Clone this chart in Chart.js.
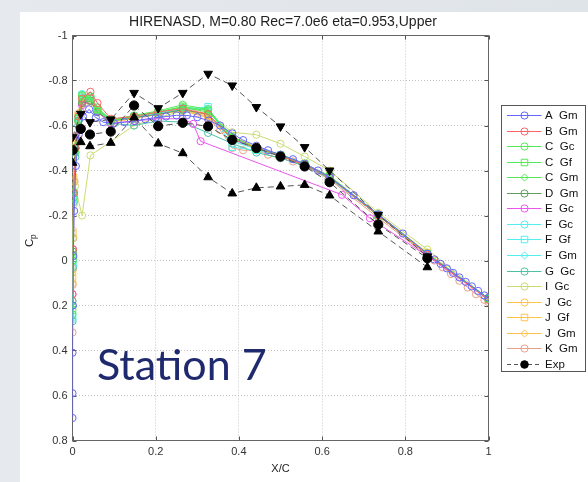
<!DOCTYPE html>
<html><head><meta charset="utf-8">
<script src="https://cdn.jsdelivr.net/npm/chart.js@4"></script>
<style>
html,body{margin:0;padding:0;width:588px;height:482px;overflow:hidden;background:linear-gradient(90deg,#e6e9ed,#dfe4e9);}
#fig{position:absolute;left:20px;top:12px;width:568px;height:470px;background:#fff;}
#c{position:absolute;left:0;top:0;}
#station{position:absolute;left:97px;top:342px;font-family:Lato,'Open Sans',sans-serif;font-size:43px;color:#1f2a6e;white-space:nowrap;line-height:1;}
</style></head>
<body>
<div id="fig"></div>
<canvas id="c" width="588" height="482"></canvas>
<div id="station">Station 7</div>
<script>
// ---------- data ----------
const titleText = 'HIRENASD, M=0.80 Rec=7.0e6 eta=0.953,Upper';
const xTicks = [0, 0.2, 0.4, 0.6, 0.8, 1];
const xTickLabels = ['0', '0.2', '0.4', '0.6', '0.8', '1'];
const yTicks = [-1, -0.8, -0.6, -0.4, -0.2, 0, 0.2, 0.4, 0.6, 0.8];
const yTickLabels = ['-1', '-0.8', '-0.6', '-0.4', '-0.2', '0', '0.2', '0.4', '0.6', '0.8'];

const xA = [0, 0, 0, 0.001, 0.002, 0.004, 0.008, 0.015, 0.025, 0.04, 0.056, 0.074, 0.1, 0.125, 0.15, 0.175, 0.2, 0.225, 0.25, 0.275, 0.3, 0.327, 0.355, 0.384, 0.41, 0.442, 0.47, 0.5, 0.53, 0.558, 0.59, 0.618, 0.676, 0.735, 0.794, 0.853, 0.87, 0.885, 0.9, 0.915, 0.93, 0.945, 0.96, 0.975, 0.99, 1.0];
const cpA_Gm = [0.70, 0.59, 0.41, 0.2, -0.02, -0.22, -0.42, -0.56, -0.64, -0.672, -0.635, -0.615, -0.61, -0.615, -0.62, -0.628, -0.635, -0.64, -0.645, -0.645, -0.637, -0.622, -0.6, -0.565, -0.535, -0.51, -0.49, -0.47, -0.45, -0.43, -0.4, -0.37, -0.29, -0.205, -0.12, -0.03, -0.005, 0.015, 0.035, 0.055, 0.075, 0.095, 0.115, 0.135, 0.155, 0.165];

const xS = [0, 0.001, 0.003, 0.007, 0.014, 0.023, 0.043, 0.06, 0.092, 0.148, 0.206, 0.265, 0.326, 0.384, 0.442, 0.5, 0.558, 0.618, 0.735, 0.853, 1.0];
const cpB_Gm = [0.15, -0.05, -0.3, -0.5, -0.64, -0.72, -0.75, -0.7, -0.63, -0.64, -0.66, -0.675, -0.65, -0.54, -0.5, -0.465, -0.425, -0.37, -0.2, -0.025, 0.175];
const cpC_Gc = [0.24, 0.0, -0.28, -0.48, -0.62, -0.735, -0.73, -0.68, -0.625, -0.645, -0.665, -0.692, -0.672, -0.55, -0.5, -0.47, -0.43, -0.375, -0.205, -0.03, 0.17];
const cpC_Gf = [0.22, -0.02, -0.3, -0.5, -0.63, -0.73, -0.72, -0.67, -0.625, -0.64, -0.66, -0.685, -0.665, -0.545, -0.495, -0.468, -0.43, -0.375, -0.2, -0.03, 0.17];
const cpC_Gm = [0.2, -0.03, -0.31, -0.51, -0.64, -0.72, -0.725, -0.67, -0.62, -0.64, -0.66, -0.68, -0.66, -0.55, -0.5, -0.47, -0.43, -0.37, -0.2, -0.03, 0.17];
const cpD_Gm = [0.18, -0.04, -0.3, -0.5, -0.62, -0.7, -0.71, -0.66, -0.62, -0.635, -0.65, -0.67, -0.65, -0.54, -0.5, -0.465, -0.425, -0.37, -0.2, -0.03, 0.17];
const cpF_Gc = [0.26, 0.02, -0.27, -0.48, -0.62, -0.74, -0.73, -0.68, -0.625, -0.64, -0.66, -0.68, -0.675, -0.54, -0.5, -0.47, -0.43, -0.375, -0.205, -0.03, 0.17];
const cpF_Gf = [0.25, 0.0, -0.28, -0.49, -0.63, -0.735, -0.72, -0.67, -0.62, -0.64, -0.655, -0.67, -0.683, -0.504, -0.49, -0.465, -0.43, -0.37, -0.2, -0.03, 0.17];
const cpF_Gm = [0.2, -0.03, -0.3, -0.5, -0.63, -0.73, -0.72, -0.67, -0.62, -0.635, -0.655, -0.675, -0.67, -0.53, -0.495, -0.465, -0.43, -0.37, -0.2, -0.03, 0.17];
const cpG_Gc = [0.27, 0.03, -0.26, -0.46, -0.6, -0.7, -0.71, -0.66, -0.61, -0.6, -0.62, -0.615, -0.567, -0.52, -0.48, -0.455, -0.42, -0.365, -0.2, -0.03, 0.17];
const cpJ_Gc = [0.1, -0.1, -0.35, -0.52, -0.64, -0.7, -0.72, -0.67, -0.62, -0.635, -0.655, -0.675, -0.645, -0.55, -0.505, -0.47, -0.43, -0.375, -0.205, -0.035, 0.17];
const cpJ_Gf = [0.08, -0.12, -0.36, -0.53, -0.65, -0.705, -0.71, -0.665, -0.62, -0.635, -0.655, -0.67, -0.64, -0.545, -0.5, -0.468, -0.428, -0.372, -0.203, -0.033, 0.17];
const cpJ_Gm = [0.06, -0.14, -0.38, -0.54, -0.655, -0.695, -0.7, -0.66, -0.615, -0.63, -0.65, -0.665, -0.635, -0.54, -0.5, -0.465, -0.425, -0.37, -0.2, -0.03, 0.17];

const xE = [0, 0.001, 0.003, 0.007, 0.014, 0.023, 0.043, 0.06, 0.092, 0.148, 0.206, 0.265, 0.29, 0.308, 0.648, 0.715, 0.853, 1.0];
const cpE_Gc = [0.15, -0.05, -0.3, -0.5, -0.62, -0.69, -0.71, -0.66, -0.61, -0.62, -0.63, -0.63, -0.607, -0.53, -0.292, -0.188, -0.02, 0.17];

const xI = [0, 0.001, 0.003, 0.006, 0.023, 0.043, 0.148, 0.206, 0.265, 0.326, 0.384, 0.442, 0.5, 0.558, 0.618, 0.735, 0.853, 1.0];
const cpI_Gc = [0.05, -0.1, -0.25, -0.33, -0.2, -0.467, -0.6, -0.635, -0.665, -0.655, -0.57, -0.559, -0.519, -0.462, -0.4, -0.212, -0.049, 0.17];

const xK = [0, 0.0005, 0.001, 0.002, 0.005, 0.01, 0.02, 0.03, 0.043, 0.06, 0.092, 0.148, 0.206, 0.265, 0.3, 0.326, 0.355, 0.384, 0.41, 0.442, 0.47, 0.5, 0.53, 0.558, 0.618, 0.735, 0.853, 0.87, 0.89, 0.91, 0.93, 0.95, 0.97, 0.99, 1.0];
const cpK_Gm = [0.32, 0.108, 0.037, -0.1, -0.35, -0.55, -0.66, -0.70, -0.71, -0.66, -0.62, -0.63, -0.65, -0.665, -0.655, -0.63, -0.58, -0.5, -0.49, -0.49, -0.47, -0.455, -0.44, -0.42, -0.36, -0.19, -0.02, 0.0, 0.03, 0.06, 0.09, 0.12, 0.15, 0.175, 0.185];

const xExp = [0, 0.02, 0.042, 0.092, 0.148, 0.206, 0.265, 0.326, 0.384, 0.442, 0.5, 0.558, 0.618, 0.735, 0.853];
const cpExp = [-0.49, -0.585, -0.56, -0.573, -0.689, -0.597, -0.612, -0.596, -0.536, -0.5, -0.462, -0.418, -0.348, -0.16, -0.01];
const cpExpMin = [-0.548, -0.652, -0.615, -0.627, -0.745, -0.677, -0.745, -0.83, -0.778, -0.682, -0.596, -0.504, -0.4, -0.203, -0.018];
const cpExpMax = [-0.434, -0.526, -0.508, -0.523, -0.636, -0.52, -0.477, -0.37, -0.298, -0.323, -0.329, -0.336, -0.289, -0.129, 0.03];

// ---------- build ----------
const zip = (xs, ys) => xs.map((x, i) => ({x, y: ys[i]}));
function cfd(label, xs, ys, color, style) {
  return {label, data: zip(xs, ys), borderColor: color, pointBorderColor: color,
    pointBackgroundColor: 'rgba(0,0,0,0)', borderWidth: 1, pointBorderWidth: 1,
    pointStyle: style, pointRadius: style === 'rect' ? 4.6 : 3.6, showLine: true, inLegend: true};
}
const cBlue = '#6565ff', cRed = '#ff6464', cGreen = '#55ea55', cDGreen = '#5e9e5e', cMag = '#ec55ec',
      cCyan = '#55eeee', cTeal = '#4fc0a6', cYG = '#c9dc72', cOr = '#ffc24d', cSal = '#e8a088';
const datasets = [
  cfd('A  Gm', xA, cpA_Gm, cBlue, 'circle'),
  cfd('B  Gm', xS, cpB_Gm, cRed, 'circle'),
  cfd('C  Gc', xS, cpC_Gc, cGreen, 'circle'),
  cfd('C  Gf', xS, cpC_Gf, cGreen, 'rect'),
  cfd('C  Gm', xS, cpC_Gm, cGreen, 'rectRot'),
  cfd('D  Gm', xS, cpD_Gm, cDGreen, 'circle'),
  cfd('E  Gc', xE, cpE_Gc, cMag, 'circle'),
  cfd('F  Gc', xS, cpF_Gc, cCyan, 'circle'),
  cfd('F  Gf', xS, cpF_Gf, cCyan, 'rect'),
  cfd('F  Gm', xS, cpF_Gm, cCyan, 'rectRot'),
  cfd('G  Gc', xS, cpG_Gc, cTeal, 'circle'),
  cfd('I  Gc', xI, cpI_Gc, cYG, 'circle'),
  cfd('J  Gc', xS, cpJ_Gc, cOr, 'circle'),
  cfd('J  Gf', xS, cpJ_Gf, cOr, 'rect'),
  cfd('J  Gm', xS, cpJ_Gm, cOr, 'rectRot'),
  cfd('K  Gm', xK, cpK_Gm, cSal, 'circle'),
  {label: 'Exp', data: zip(xExp, cpExp), borderColor: '#555', borderDash: [6, 4], borderWidth: 1,
   pointStyle: 'circle', pointRadius: 4.6, pointBackgroundColor: '#000', pointBorderColor: '#000',
   pointBorderWidth: 1, showLine: true, order: -1, inLegend: true},
  {label: 'ExpMin', data: zip(xExp, cpExpMin), borderColor: '#555', borderDash: [6, 4], borderWidth: 1,
   pointStyle: 'triangle', rotation: 180, pointRadius: 5, pointBackgroundColor: '#000', pointBorderColor: '#000',
   pointBorderWidth: 1, showLine: true, order: -1, inLegend: false},
  {label: 'ExpMax', data: zip(xExp, cpExpMax), borderColor: '#555', borderDash: [6, 4], borderWidth: 1,
   pointStyle: 'triangle', rotation: 0, pointRadius: 5, pointBackgroundColor: '#000', pointBorderColor: '#000',
   pointBorderWidth: 1, showLine: true, order: -1, inLegend: false}
];

const FONT = "'Liberation Sans', Arial, Helvetica, sans-serif";

function drawMarker(ctx, style, x, y, r, rot, stroke, fill) {
  ctx.save();
  ctx.beginPath();
  if (style === 'circle') ctx.arc(x, y, r, 0, Math.PI * 2);
  else if (style === 'rect') { const s = r * Math.SQRT1_2; ctx.rect(x - s, y - s, 2 * s, 2 * s); }
  else if (style === 'rectRot') { ctx.moveTo(x, y - r); ctx.lineTo(x + r, y); ctx.lineTo(x, y + r); ctx.lineTo(x - r, y); ctx.closePath(); }
  else if (style === 'triangle') {
    const a = (rot || 0) * Math.PI / 180;
    for (let k = 0; k < 3; k++) {
      const t = a - Math.PI / 2 + k * 2 * Math.PI / 3;
      const px = x + r * Math.cos(t), py = y + r * Math.sin(t);
      k ? ctx.lineTo(px, py) : ctx.moveTo(px, py);
    }
    ctx.closePath();
  }
  if (fill && fill !== 'rgba(0,0,0,0)') { ctx.fillStyle = fill; ctx.fill(); }
  ctx.strokeStyle = stroke; ctx.lineWidth = 1; ctx.stroke();
  ctx.restore();
}

const decor = {
  id: 'decor',
  beforeDatasetsDraw(chart) {
    const {ctx, chartArea: a, scales} = chart;
    ctx.save();
    ctx.strokeStyle = '#555'; ctx.lineWidth = 1;
    xTicks.forEach(v => {
      const px = Math.round(scales.x.getPixelForValue(v)) + 0.5;
      ctx.beginPath(); ctx.moveTo(px, a.bottom); ctx.lineTo(px, a.bottom - 4);
      ctx.moveTo(px, a.top); ctx.lineTo(px, a.top + 4); ctx.stroke();
    });
    yTicks.forEach(v => {
      const py = Math.round(scales.y.getPixelForValue(v)) + 0.5;
      ctx.beginPath(); ctx.moveTo(a.left, py); ctx.lineTo(a.left + 4, py);
      ctx.moveTo(a.right, py); ctx.lineTo(a.right - 4, py); ctx.stroke();
    });
    ctx.strokeStyle = '#666';
    ctx.strokeRect(a.left, a.top, a.right - a.left, a.bottom - a.top);
    ctx.restore();
  },
  afterDraw(chart) {
    const {ctx, chartArea: a} = chart;
    ctx.save();
    // title
    ctx.fillStyle = '#222'; ctx.font = '14px ' + FONT; ctx.textAlign = 'center'; ctx.textBaseline = 'middle';
    ctx.fillText(titleText, 283, 22.5);
    // x label
    ctx.font = '11px ' + FONT;
    ctx.fillText('X/C', (a.left + a.right) / 2, 469);
    // y label C_p
    ctx.save();
    ctx.translate(30, 241); ctx.rotate(-Math.PI / 2);
    ctx.textAlign = 'left'; ctx.font = '11.5px ' + FONT;
    ctx.fillText('C', -6, 0);
    ctx.font = '8.5px ' + FONT;
    ctx.fillText('p', 2, 4);
    ctx.restore();
    // legend
    const lx = 501.5, ly = 105.5, lw = 84, lh = 266;
    ctx.fillStyle = '#fff'; ctx.fillRect(lx, ly, lw, lh);
    ctx.strokeStyle = '#555'; ctx.lineWidth = 1; ctx.strokeRect(lx, ly, lw, lh);
    const items = chart.data.datasets.filter(d => d.inLegend);
    ctx.font = '11.5px ' + FONT; ctx.textAlign = 'left'; ctx.textBaseline = 'middle';
    items.forEach((d, i) => {
      const y = Math.round(115 + i * 15.55) + 0.5;
      ctx.save();
      ctx.strokeStyle = d.borderColor; ctx.lineWidth = 1;
      if (d.borderDash) ctx.setLineDash([4, 3]);
      ctx.beginPath(); ctx.moveTo(507, y); ctx.lineTo(541.5, y); ctx.stroke();
      ctx.restore();
      drawMarker(ctx, d.pointStyle, 524.5, y, d.label === 'Exp' ? 3.8 : (d.pointStyle === 'rect' ? 4.6 : 3.6), 0,
        d.pointBorderColor, d.pointBackgroundColor);
      ctx.fillStyle = '#111';
      ctx.fillText(d.label, 545, y + 0.5);
    });
    ctx.restore();
  }
};

new Chart(document.getElementById('c'), {
  type: 'scatter',
  data: {datasets},
  options: {
    responsive: false, animation: false,
    layout: {padding: {left: 0, right: 99.5, top: 35.5, bottom: 0}},
    scales: {
      x: {type: 'linear', min: 0, max: 1,
        afterBuildTicks: s => { s.ticks = xTicks.map(v => ({value: v})); },
        afterFit: s => { s.height = 41.5; },
        grid: {color: '#c4c4c4', lineWidth: 1, drawTicks: false},
        border: {display: false, dash: [1, 2]},
        ticks: {padding: 5, color: '#333', font: {family: FONT, size: 11}, maxRotation: 0,
          callback: (v, i) => xTickLabels[i]}},
      y: {type: 'linear', min: -1, max: 0.8, reverse: true,
        afterBuildTicks: s => { s.ticks = yTicks.map(v => ({value: v})); },
        afterFit: s => { s.width = 72.5; },
        grid: {color: '#c4c4c4', lineWidth: 1, drawTicks: false},
        border: {display: false, dash: [1, 2]},
        ticks: {padding: 5, color: '#333', font: {family: FONT, size: 11},
          callback: (v, i) => yTickLabels[i]}}
    },
    plugins: {legend: {display: false}, tooltip: {enabled: false}, title: {display: false}}
  },
  plugins: [decor]
});
</script>
</body></html>
